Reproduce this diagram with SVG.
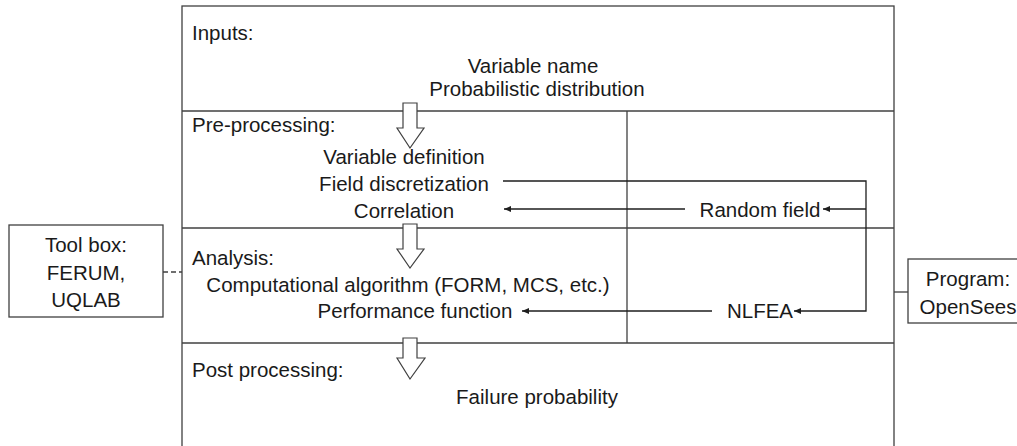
<svg xmlns="http://www.w3.org/2000/svg" width="1017" height="446" viewBox="0 0 1017 446">
<style>
.ln{fill:none;stroke:#404040;stroke-width:1.3}
.bx{fill:#ffffff;stroke:#404040;stroke-width:1.3}
.t{font-family:"Liberation Sans",Arial,sans-serif;font-size:20.5px;fill:#1a1a1a}
.c{text-anchor:middle}
.blk{fill:#ffffff;stroke:#404040;stroke-width:1.2;stroke-linejoin:miter}
.conn{fill:none;stroke:#1e1e1e;stroke-width:1.3}
</style>
<defs>
<marker id="ah" markerUnits="userSpaceOnUse" markerWidth="8" markerHeight="8" refX="7" refY="4" orient="auto">
<path d="M0,1 L7,4 L0,7 Z" fill="#1e1e1e"/>
</marker>
</defs>
<rect width="1017" height="446" fill="#ffffff"/>
<g id="frame">
<rect class="bx" x="182" y="6" width="712" height="450"/>
<line class="ln" x1="182" y1="111" x2="894" y2="111"/>
<line class="ln" x1="182" y1="228" x2="894" y2="228"/>
<line class="ln" x1="182" y1="343" x2="894" y2="343"/>
<line class="ln" x1="627" y1="111" x2="627" y2="343"/>
</g>
<g id="inputs">
<text class="t" x="192" y="40">Inputs:</text>
<text class="t c" x="533" y="73">Variable name</text>
<text class="t c" x="537" y="96">Probabilistic distribution</text>
</g>
<g id="preprocessing">
<text class="t" x="192" y="132">Pre-processing:</text>
<text class="t c" x="404" y="164">Variable definition</text>
<text class="t c" x="404" y="191">Field discretization</text>
<text class="t c" x="404" y="218">Correlation</text>
</g>
<g id="random-field">
<text class="t c" x="760" y="217">Random field</text>
</g>
<g id="analysis">
<text class="t" x="192" y="265">Analysis:</text>
<text class="t c" x="408" y="292">Computational algorithm (FORM, MCS, etc.)</text>
<text class="t c" x="415" y="318">Performance function</text>
</g>
<g id="nlfea">
<text class="t c" x="760" y="318">NLFEA</text>
</g>
<g id="postprocessing">
<text class="t" x="192" y="377">Post processing:</text>
<text class="t c" x="537" y="404">Failure probability</text>
</g>
<g id="toolbox">
<rect class="bx" x="9" y="225" width="154" height="92"/>
<text class="t c" x="86" y="252">Tool box:</text>
<text class="t c" x="86" y="280">FERUM,</text>
<text class="t c" x="86" y="307">UQLAB</text>
</g>
<g id="program">
<rect class="bx" x="908" y="259" width="122" height="64"/>
<text class="t c" x="968" y="286">Program:</text>
<text class="t c" x="968" y="314">OpenSees</text>
</g>
<g id="connectors">
<path class="blk" d="M403,103 H417 V128 H424 L410,148 L397,128 H403 Z"/>
<path class="blk" d="M403,224 H417 V249 H424 L410,268 L397,249 H403 Z"/>
<path class="blk" d="M403,338 H417 V358 H425 L410,379 L397,358 H403 Z"/>
<line class="ln" x1="163" y1="272" x2="182" y2="272" stroke-dasharray="5,3"/>
<line class="ln" x1="894" y1="292" x2="908" y2="292"/>
<path class="conn" d="M503,181 H866 V311 H794" marker-end="url(#ah)"/>
<path class="conn" d="M866,209 H823" marker-end="url(#ah)"/>
<path class="conn" d="M685,209 H504" marker-end="url(#ah)"/>
<path class="conn" d="M712,311 H522" marker-end="url(#ah)"/>
</g>
</svg>
